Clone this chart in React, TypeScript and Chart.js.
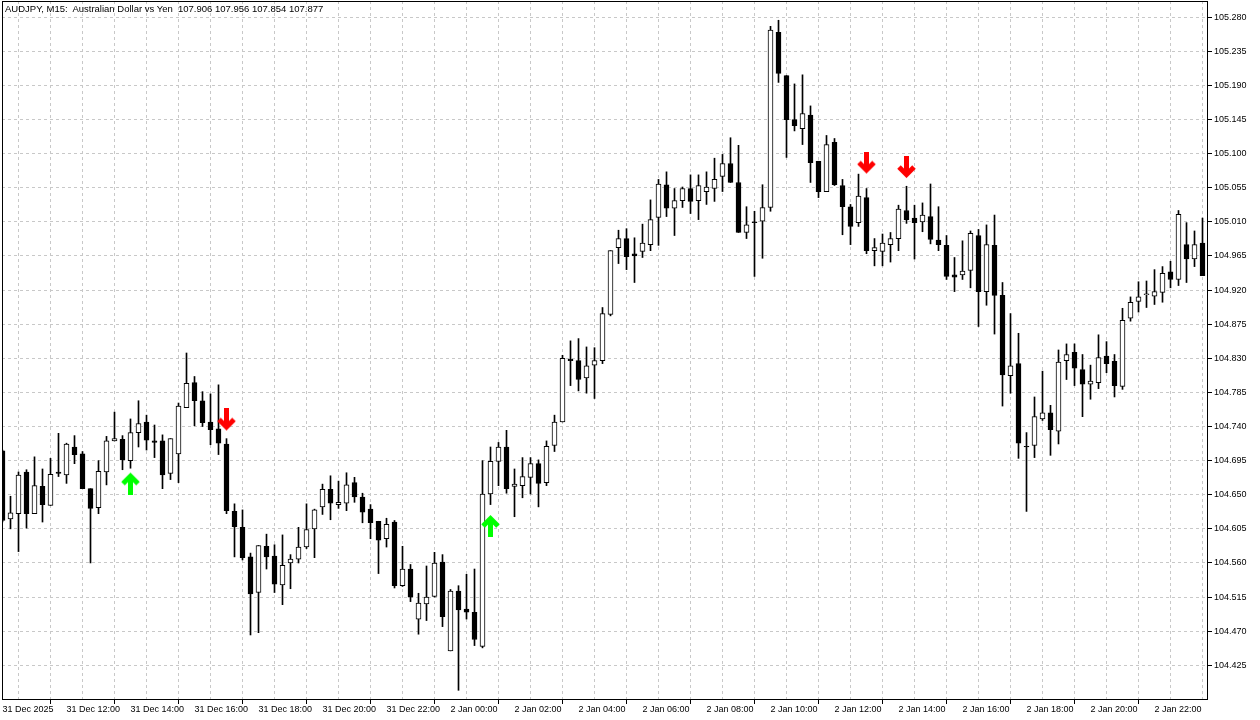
import React, { useEffect, useRef } from 'react';
import { Chart, registerables } from 'chart.js';

Chart.register(...registerables);

const chartTitle = 'AUDJPY, M15:  Australian Dollar vs Yen  107.906 107.956 107.854 107.877';

const opens = [
  104.708, 104.618, 104.625, 104.680, 104.625, 104.661, 104.636, 104.680, 104.676, 104.713,
  104.704, 104.658, 104.633, 104.680, 104.721, 104.723, 104.695, 104.732, 104.746, 104.721,
  104.721, 104.678, 104.704, 104.765, 104.798, 104.774, 104.746, 104.737, 104.717, 104.628,
  104.607, 104.568, 104.521, 104.582, 104.569, 104.531, 104.560, 104.565, 104.581, 104.605,
  104.634, 104.657, 104.637, 104.639, 104.666, 104.647, 104.631, 104.615, 104.592, 104.614,
  104.530, 104.552, 104.486, 104.506, 104.516, 104.561, 104.444, 104.523, 104.499, 104.495,
  104.450, 104.651, 104.694, 104.713, 104.661, 104.662, 104.673, 104.691, 104.666, 104.715,
  104.746, 104.829, 104.827, 104.804, 104.821, 104.827, 104.888, 104.976, 104.988, 104.968,
  104.971, 104.980, 105.016, 105.059, 105.028, 105.038, 105.054, 105.038, 105.050, 105.054,
  105.070, 105.087, 105.062, 104.996, 105.010, 105.011, 105.029, 105.260, 105.203, 105.145,
  105.133, 105.151, 105.090, 105.050, 105.115, 105.058, 105.030, 105.009, 105.042, 104.972,
  104.971, 104.980, 104.988, 105.025, 105.015, 105.010, 105.017, 104.986, 104.979, 104.940,
  104.940, 104.946, 104.992, 104.918, 104.979, 104.913, 104.807, 104.823, 104.714, 104.715,
  104.750, 104.758, 104.734, 104.827, 104.838, 104.815, 104.796, 104.798, 104.833, 104.826,
  104.793, 104.883, 104.905, 104.914, 104.912, 104.917, 104.944, 104.934, 104.980, 104.961,
  104.982,
];

const highs = [
  104.709, 104.648, 104.680, 104.683, 104.700, 104.684, 104.698, 104.731, 104.718, 104.728,
  104.707, 104.658, 104.695, 104.727, 104.759, 104.728, 104.750, 104.774, 104.755, 104.742,
  104.729, 104.724, 104.771, 104.837, 104.806, 104.786, 104.783, 104.795, 104.724, 104.638,
  104.630, 104.573, 104.583, 104.598, 104.584, 104.597, 104.571, 104.607, 104.638, 104.631,
  104.664, 104.675, 104.668, 104.679, 104.673, 104.652, 104.637, 104.615, 104.619, 104.616,
  104.582, 104.558, 104.520, 104.556, 104.574, 104.571, 104.525, 104.530, 104.545, 104.552,
  104.695, 104.713, 104.719, 104.735, 104.684, 104.699, 104.699, 104.696, 104.721, 104.755,
  104.834, 104.853, 104.856, 104.845, 104.844, 104.897, 104.972, 104.999, 105.001, 104.989,
  105.007, 105.039, 105.066, 105.076, 105.054, 105.056, 105.072, 105.072, 105.076, 105.094,
  105.099, 105.121, 105.111, 105.030, 105.024, 105.059, 105.268, 105.276, 105.203, 105.192,
  105.204, 105.163, 105.090, 105.124, 105.120, 105.066, 105.033, 105.073, 105.054, 104.988,
  104.994, 104.996, 105.032, 105.057, 105.032, 105.035, 105.060, 105.030, 104.992, 104.963,
  104.985, 104.998, 105.000, 105.006, 105.019, 104.930, 104.889, 104.863, 104.732, 104.779,
  104.813, 104.768, 104.841, 104.849, 104.849, 104.835, 104.821, 104.861, 104.852, 104.835,
  104.896, 104.911, 104.931, 104.932, 104.947, 104.951, 104.958, 105.025, 105.009, 104.998,
  105.015,
];

const lows = [
  104.614, 104.605, 104.575, 104.606, 104.625, 104.614, 104.636, 104.674, 104.665, 104.691,
  104.658, 104.560, 104.625, 104.663, 104.721, 104.683, 104.685, 104.713, 104.709, 104.699,
  104.658, 104.670, 104.666, 104.765, 104.741, 104.740, 104.716, 104.703, 104.625, 104.568,
  104.564, 104.465, 104.468, 104.552, 104.521, 104.505, 104.526, 104.560, 104.579, 104.567,
  104.624, 104.617, 104.632, 104.629, 104.640, 104.613, 104.592, 104.546, 104.581, 104.527,
  104.529, 104.509, 104.466, 104.484, 104.515, 104.476, 104.444, 104.392, 104.486, 104.451,
  104.448, 104.637, 104.662, 104.652, 104.621, 104.646, 104.651, 104.634, 104.662, 104.707,
  104.746, 104.794, 104.787, 104.784, 104.777, 104.823, 104.886, 104.955, 104.947, 104.930,
  104.963, 104.972, 104.979, 105.017, 104.992, 105.029, 105.021, 105.013, 105.033, 105.037,
  105.050, 105.062, 104.996, 104.988, 104.938, 104.962, 105.024, 105.194, 105.095, 105.130,
  105.112, 105.062, 105.042, 105.050, 105.058, 104.993, 104.980, 105.004, 104.968, 104.952,
  104.952, 104.957, 104.972, 105.008, 104.961, 104.997, 104.981, 104.972, 104.934, 104.918,
  104.934, 104.923, 104.872, 104.900, 104.862, 104.767, 104.784, 104.698, 104.628, 104.699,
  104.748, 104.702, 104.717, 104.802, 104.794, 104.753, 104.776, 104.790, 104.811, 104.779,
  104.789, 104.879, 104.891, 104.897, 104.901, 104.904, 104.923, 104.926, 104.930, 104.951,
  104.939,
];

const closes = [
  104.616, 104.626, 104.676, 104.625, 104.662, 104.637, 104.677, 104.678, 104.717, 104.703,
  104.658, 104.632, 104.681, 104.721, 104.724, 104.696, 104.732, 104.744, 104.722, 104.719,
  104.676, 104.724, 104.767, 104.797, 104.774, 104.745, 104.736, 104.718, 104.629, 104.608,
  104.567, 104.519, 104.583, 104.568, 104.532, 104.557, 104.565, 104.581, 104.604, 104.630,
  104.657, 104.639, 104.640, 104.663, 104.647, 104.627, 104.613, 104.590, 104.611, 104.530,
  104.552, 104.515, 104.507, 104.515, 104.560, 104.489, 104.523, 104.498, 104.495, 104.459,
  104.651, 104.694, 104.713, 104.658, 104.664, 104.674, 104.691, 104.665, 104.714, 104.746,
  104.830, 104.827, 104.802, 104.820, 104.827, 104.889, 104.972, 104.988, 104.964, 104.965,
  104.982, 105.013, 105.060, 105.028, 105.038, 105.054, 105.037, 105.058, 105.056, 105.066,
  105.087, 105.062, 104.996, 105.006, 105.009, 105.029, 105.263, 105.206, 105.145, 105.137,
  105.153, 105.088, 105.050, 105.112, 105.059, 105.030, 105.004, 105.044, 104.972, 104.976,
  104.982, 104.988, 105.027, 105.013, 105.009, 105.019, 104.987, 104.980, 104.938, 104.937,
  104.945, 104.995, 104.918, 104.980, 104.913, 104.808, 104.820, 104.718, 104.713, 104.753,
  104.758, 104.736, 104.825, 104.835, 104.817, 104.796, 104.800, 104.831, 104.823, 104.794,
  104.880, 104.904, 104.911, 104.915, 104.918, 104.942, 104.934, 105.020, 104.961, 104.980,
  104.939,
];

// time labels shown every 8 bars (2 hours of M15), starting at bar 0
const timeLabels = [
  '31 Dec 2025', '31 Dec 12:00', '31 Dec 14:00', '31 Dec 16:00', '31 Dec 18:00',
  '31 Dec 20:00', '31 Dec 22:00', '2 Jan 00:00', '2 Jan 02:00', '2 Jan 04:00',
  '2 Jan 06:00', '2 Jan 08:00', '2 Jan 10:00', '2 Jan 12:00', '2 Jan 14:00',
  '2 Jan 16:00', '2 Jan 18:00', '2 Jan 20:00', '2 Jan 22:00',
];
const barsPerLabel = 8;
const barsPerGrid = 4;

const priceTicks = [
  104.425, 104.470, 104.515, 104.560, 104.605, 104.650, 104.695, 104.740, 104.785, 104.830,
  104.875, 104.920, 104.965, 105.010, 105.055, 105.100, 105.145, 105.190, 105.235, 105.280,
];

const buyArrowBars = [16, 61];
const buyArrowPrices = [104.666, 104.610];
const sellArrowBars = [28, 108, 113];
const sellArrowPrices = [104.748, 105.087, 105.081];

const FONT = "'Liberation Sans', Arial, sans-serif";

function makeArrow(color: string, up: boolean): HTMLCanvasElement {
  const c = document.createElement('canvas');
  c.width = 21;
  c.height = 24;
  const g = c.getContext('2d')!;
  if (!up) {
    g.translate(0, 24);
    g.scale(1, -1);
  }
  g.strokeStyle = color;
  g.lineWidth = 5;
  g.lineJoin = 'miter';
  g.lineCap = 'butt';
  g.beginPath();
  g.moveTo(3, 13);
  g.lineTo(10.5, 5.5);
  g.lineTo(18, 13);
  g.stroke();
  g.beginPath();
  g.moveTo(10.5, 5.5);
  g.lineTo(10.5, 24);
  g.stroke();
  return c;
}

const framePlugin = {
  id: 'frame',
  afterDraw(chart: any) {
    const { ctx, chartArea } = chart;
    ctx.save();
    ctx.strokeStyle = '#000';
    ctx.lineWidth = 1;
    ctx.strokeRect(
      chartArea.left + 0.5,
      chartArea.top + 0.5,
      chartArea.right - chartArea.left - 1,
      chartArea.bottom - chartArea.top - 1
    );
    ctx.restore();
  },
};

function clearPadding(s: any) {
  s.paddingLeft = 0;
  s.paddingRight = 0;
  s.paddingTop = 0;
  s.paddingBottom = 0;
}

export default function App() {
  const ref = useRef<HTMLCanvasElement | null>(null);

  useEffect(() => {
    if (!ref.current) return;
    const n = opens.length;
    const idx = Array.from({ length: n }, (_, i) => i);
    const wickData = idx.map((i) => ({ x: i, y: [lows[i], highs[i]] }));
    const bodyData = idx.map((i) => ({ x: i, y: [opens[i], closes[i]] }));
    const buyData = buyArrowBars.map((b, k) => ({ x: b, y: buyArrowPrices[k] }));
    const sellData = sellArrowBars.map((b, k) => ({ x: b, y: sellArrowPrices[k] }));
    const gridBars: number[] = [];
    for (let i = 0; i < n; i += barsPerGrid) gridBars.push(i);

    const chart = new Chart(ref.current, {
      type: 'bar',
      data: {
        datasets: [
          {
            type: 'bar',
            data: wickData as any,
            backgroundColor: '#000000',
            borderWidth: 0,
            barThickness: 1,
            grouped: false,
            order: 3,
          } as any,
          {
            type: 'bar',
            data: bodyData as any,
            backgroundColor: (c: any) =>
              closes[c.dataIndex] >= opens[c.dataIndex] ? '#ffffff' : '#000000',
            borderColor: '#000000',
            borderWidth: 1,
            borderSkipped: false,
            barThickness: 5,
            grouped: false,
            order: 2,
          } as any,
          {
            type: 'scatter',
            data: buyData,
            pointStyle: makeArrow('#00ff00', true),
            pointRadius: 10,
            order: 1,
          } as any,
          {
            type: 'scatter',
            data: sellData,
            pointStyle: makeArrow('#ff0000', false),
            pointRadius: 10,
            order: 1,
          } as any,
        ],
      },
      options: {
        responsive: false,
        animation: false,
        events: [],
        layout: { autoPadding: false, padding: { left: 2, top: 1, right: 0, bottom: 0 } },
        plugins: {
          legend: { display: false },
          tooltip: { enabled: false },
          title: { display: false },
        },
        scales: {
          x: {
            type: 'linear',
            position: 'bottom',
            min: -0.0625,
            max: 150.6875,
            offset: false,
            afterBuildTicks: (s: any) => {
              s.ticks = gridBars.map((v) => ({ value: v }));
            },
            afterFit: (s: any) => {
              s.height = 20;
              clearPadding(s);
            },
            ticks: {
              autoSkip: false,
              maxRotation: 0,
              minRotation: 0,
              align: 'start',
              padding: 0,
              color: '#000',
              font: { family: FONT, size: 9 },
              callback: (v: any) => {
                const num = Number(v);
                return num % barsPerLabel === 0 ? timeLabels[num / barsPerLabel] ?? '' : '';
              },
            },
            grid: {
              color: '#c8c8c8',
              lineWidth: 1,
              drawTicks: true,
              tickLength: 4,
              tickWidth: 1,
              tickBorderDash: [],
              tickColor: (c: any) =>
                c.tick && c.tick.value % barsPerLabel === 0 ? '#000000' : 'rgba(0,0,0,0)',
            },
            border: { display: false, dash: [3, 3] },
          } as any,
          y: {
            type: 'linear',
            position: 'right',
            min: 104.3792,
            max: 105.3014,
            afterBuildTicks: (s: any) => {
              s.ticks = priceTicks.map((v) => ({ value: v }));
            },
            afterFit: (s: any) => {
              s.width = 52;
              clearPadding(s);
            },
            ticks: {
              autoSkip: false,
              padding: 2,
              color: '#000',
              font: { family: FONT, size: 9 },
              callback: (v: any) => Number(v).toFixed(3),
            },
            grid: {
              color: '#c8c8c8',
              lineWidth: 1,
              drawTicks: true,
              tickLength: 4,
              tickWidth: 1,
              tickBorderDash: [],
              tickColor: '#000000',
            },
            border: { display: false, dash: [3, 3] },
          } as any,
        },
      },
      plugins: [framePlugin],
    });
    return () => chart.destroy();
  }, []);

  return (
    <div
      style={{
        position: 'fixed',
        left: 0,
        top: 0,
        width: 1260,
        height: 720,
        background: '#ffffff',
      }}
    >
      <canvas ref={ref} width={1260} height={720} style={{ display: 'block' }} />
      <div
        style={{
          position: 'absolute',
          left: 5,
          top: 3,
          fontFamily: FONT,
          fontSize: 9.5,
          lineHeight: '12px',
          color: '#000',
          whiteSpace: 'pre',
        }}
      >
        {chartTitle}
      </div>
    </div>
  );
}
